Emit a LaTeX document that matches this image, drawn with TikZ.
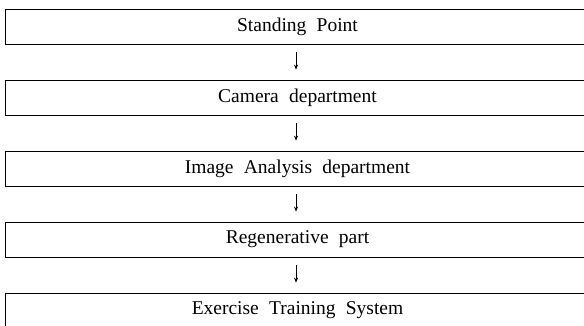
\documentclass[tikz,border=0pt]{standalone}
\usepackage{fontspec}
\setmainfont[WordSpace=2.1]{Liberation Serif}
\usetikzlibrary{arrows.meta}

\tikzset{
    stage/.style={draw, line width=0.8pt, minimum width=585pt, minimum height=35pt, inner sep=0pt, font=\fontsize{19.5}{21}\selectfont},
    flow/.style={line width=0.6pt, -{Stealth[length=5pt,width=4pt]}, shorten <=8pt, shorten >=10pt}
}

\begin{document}
\begin{tikzpicture}[x=1pt, y=-1pt]
    \useasboundingbox (0,0) rectangle (584,326);
    \clip (0,0) rectangle (584,326);
    \node(sp)[stage] at (297.5, 26.5) {Standing Point};
    \node(cam)[stage] at (297.5, 97.5) {Camera department};
    \node(img)[stage] at (297.5, 168.5) {Image Analysis department};
    \node(reg)[stage] at (297.5, 239.5) {Regenerative part};
    \node(ets)[stage] at (297.5, 310.5) {Exercise Training System};
    \draw[flow] ([xshift=-1.5pt]sp.south) -- ([xshift=-1.5pt]cam.north);
    \draw[flow] ([xshift=-1.5pt]cam.south) -- ([xshift=-1.5pt]img.north);
    \draw[flow] ([xshift=-1.5pt]img.south) -- ([xshift=-1.5pt]reg.north);
    \draw[flow] ([xshift=-1.5pt]reg.south) -- ([xshift=-1.5pt]ets.north);

    \end{tikzpicture}
\end{document}
